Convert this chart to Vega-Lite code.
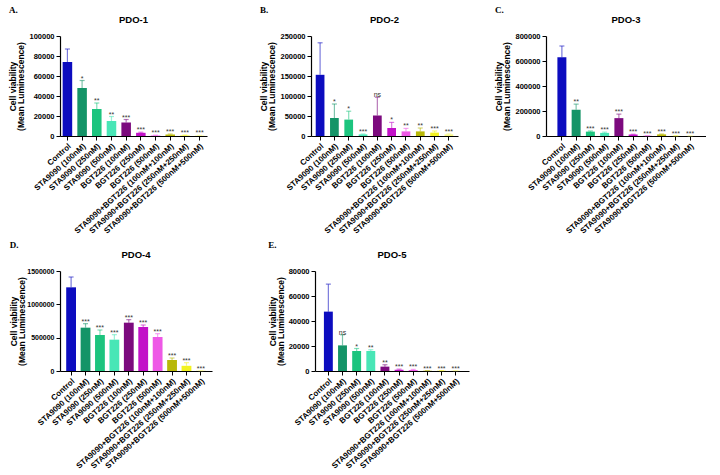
{
"$schema": "https://vega.github.io/schema/vega-lite/v6.json",
"background": "white",
"padding": {"left": 8, "top": 5, "right": 0, "bottom": 0},
"datasets": {
"pdo1": [
{"cond":"Control","mean":74000,"upper":87000,"sig":""},
{"cond":"STA9090 (100nM)","mean":48000,"upper":55500,"sig":"*"},
{"cond":"STA9090 (250nM)","mean":27000,"upper":33000,"sig":"**"},
{"cond":"STA9090 (500nM)","mean":15000,"upper":19500,"sig":"**"},
{"cond":"BGT226 (100nM)","mean":13500,"upper":16500,"sig":"***"},
{"cond":"BGT226 (250nM)","mean":3200,"upper":3800,"sig":"***"},
{"cond":"BGT226 (500nM)","mean":500,"upper":800,"sig":"***"},
{"cond":"STA9090+BGT226 (100nM+100nM)","mean":1500,"upper":2000,"sig":"***"},
{"cond":"STA9090+BGT226 (250nM+250nM)","mean":600,"upper":900,"sig":"***"},
{"cond":"STA9090+BGT226 (500nM+500nM)","mean":400,"upper":600,"sig":"***"}
],
"pdo2": [
{"cond":"Control","mean":153000,"upper":233000,"sig":""},
{"cond":"STA9090 (100nM)","mean":45000,"upper":80000,"sig":"*"},
{"cond":"STA9090 (250nM)","mean":41000,"upper":62000,"sig":"*"},
{"cond":"STA9090 (500nM)","mean":4000,"upper":5000,"sig":"***"},
{"cond":"BGT226 (100nM)","mean":51000,"upper":97000,"sig":"ns"},
{"cond":"BGT226 (250nM)","mean":20000,"upper":34000,"sig":"*"},
{"cond":"BGT226 (500nM)","mean":11500,"upper":19000,"sig":"**"},
{"cond":"STA9090+BGT226 (100nM+100nM)","mean":11500,"upper":20000,"sig":"**"},
{"cond":"STA9090+BGT226 (250nM+250nM)","mean":8500,"upper":12500,"sig":"***"},
{"cond":"STA9090+BGT226 (500nM+500nM)","mean":4000,"upper":5500,"sig":"***"}
],
"pdo3": [
{"cond":"Control","mean":630000,"upper":720000,"sig":""},
{"cond":"STA9090 (100nM)","mean":210000,"upper":255000,"sig":"**"},
{"cond":"STA9090 (250nM)","mean":35000,"upper":40000,"sig":"***"},
{"cond":"STA9090 (500nM)","mean":25000,"upper":31000,"sig":"***"},
{"cond":"BGT226 (100nM)","mean":143000,"upper":175000,"sig":"***"},
{"cond":"BGT226 (250nM)","mean":12000,"upper":14000,"sig":"***"},
{"cond":"BGT226 (500nM)","mean":2000,"upper":2500,"sig":"***"},
{"cond":"STA9090+BGT226 (100nM+100nM)","mean":13000,"upper":16000,"sig":"***"},
{"cond":"STA9090+BGT226 (250nM+250nM)","mean":1000,"upper":1500,"sig":"***"},
{"cond":"STA9090+BGT226 (500nM+500nM)","mean":1000,"upper":1500,"sig":"***"}
],
"pdo4": [
{"cond":"Control","mean":1255000,"upper":1410000,"sig":""},
{"cond":"STA9090 (100nM)","mean":650000,"upper":710000,"sig":"***"},
{"cond":"STA9090 (250nM)","mean":540000,"upper":615000,"sig":"***"},
{"cond":"STA9090 (500nM)","mean":470000,"upper":545000,"sig":"***"},
{"cond":"BGT226 (100nM)","mean":725000,"upper":770000,"sig":"***"},
{"cond":"BGT226 (250nM)","mean":660000,"upper":690000,"sig":"***"},
{"cond":"BGT226 (500nM)","mean":510000,"upper":560000,"sig":"***"},
{"cond":"STA9090+BGT226 (100nM+100nM)","mean":165000,"upper":195000,"sig":"***"},
{"cond":"STA9090+BGT226 (250nM+250nM)","mean":78000,"upper":125000,"sig":"***"},
{"cond":"STA9090+BGT226 (500nM+500nM)","mean":4000,"upper":5000,"sig":"***"}
],
"pdo5": [
{"cond":"Control","mean":47500,"upper":69500,"sig":""},
{"cond":"STA9090 (100nM)","mean":20500,"upper":29000,"sig":"ns"},
{"cond":"STA9090 (250nM)","mean":16000,"upper":18000,"sig":"*"},
{"cond":"STA9090 (500nM)","mean":16000,"upper":17000,"sig":"**"},
{"cond":"BGT226 (100nM)","mean":3500,"upper":5000,"sig":"**"},
{"cond":"BGT226 (250nM)","mean":1000,"upper":1500,"sig":"***"},
{"cond":"BGT226 (500nM)","mean":800,"upper":1300,"sig":"***"},
{"cond":"STA9090+BGT226 (100nM+100nM)","mean":200,"upper":300,"sig":"***"},
{"cond":"STA9090+BGT226 (250nM+250nM)","mean":200,"upper":300,"sig":"***"},
{"cond":"STA9090+BGT226 (500nM+500nM)","mean":200,"upper":300,"sig":"***"}
]
},
"vconcat": [
{"hconcat": [
{"title":{"text":"A.","anchor":"start","font":"Liberation Serif","fontSize":9,"fontWeight":"bold","offset":0},
 "vconcat":[{
 "width":147,"height":100,"title":"PDO-1","data":{"name":"pdo1"},
 "encoding":{"x":{"field":"cond","type":"nominal","sort":["Control","STA9090 (100nM)","STA9090 (250nM)","STA9090 (500nM)","BGT226 (100nM)","BGT226 (250nM)","BGT226 (500nM)","STA9090+BGT226 (100nM+100nM)","STA9090+BGT226 (250nM+250nM)","STA9090+BGT226 (500nM+500nM)"],"scale":{"paddingInner":0.35,"paddingOuter":0.18}},
  "color":{"field":"cond","type":"nominal","legend":null,"scale":{"domain":["Control","STA9090 (100nM)","STA9090 (250nM)","STA9090 (500nM)","BGT226 (100nM)","BGT226 (250nM)","BGT226 (500nM)","STA9090+BGT226 (100nM+100nM)","STA9090+BGT226 (250nM+250nM)","STA9090+BGT226 (500nM+500nM)"],"range":["#0c0cbf","#149467","#1cc47e","#48e6b6","#7c0a7e","#c212c8","#ee58e6","#b8b808","#f2f21e","#f6f680"]}}},
 "layer":[
  {"mark":{"type":"bar"},"encoding":{"y":{"field":"mean","type":"quantitative","title":["Cell viability","(Mean Luminescence)"],"scale":{"domain":[0,100000],"nice":false},"axis":{"values":[0,20000,40000,60000,80000,100000]}}}},
  {"mark":{"type":"rule","opacity":0.55,"strokeWidth":1.2},"encoding":{"y":{"field":"mean","type":"quantitative","title":["Cell viability","(Mean Luminescence)"],"axis":{"values":[0,20000,40000,60000,80000,100000]}},"y2":{"field":"upper"}}},
  {"mark":{"type":"tick","opacity":0.55,"size":5,"thickness":1.2},"encoding":{"y":{"field":"upper","type":"quantitative","title":["Cell viability","(Mean Luminescence)"],"axis":{"values":[0,20000,40000,60000,80000,100000]}}}},
  {"mark":{"type":"text","baseline":"bottom","dy":1,"fontSize":7,"color":"#333"},"encoding":{"y":{"field":"upper","type":"quantitative","title":["Cell viability","(Mean Luminescence)"],"axis":{"values":[0,20000,40000,60000,80000,100000]}},"text":{"field":"sig"},"color":{"value":"#333"}}}
 ]}]},
{"hconcat": [
{"title":{"text":"B.","anchor":"start","font":"Liberation Serif","fontSize":9,"fontWeight":"bold","offset":0},
 "vconcat":[{
 "width":147,"height":100,"title":"PDO-2","data":{"name":"pdo2"},
 "encoding":{"x":{"field":"cond","type":"nominal","sort":["Control","STA9090 (100nM)","STA9090 (250nM)","STA9090 (500nM)","BGT226 (100nM)","BGT226 (250nM)","BGT226 (500nM)","STA9090+BGT226 (100nM+100nM)","STA9090+BGT226 (250nM+250nM)","STA9090+BGT226 (500nM+500nM)"],"scale":{"paddingInner":0.39,"paddingOuter":0.33}},
  "color":{"field":"cond","type":"nominal","legend":null,"scale":{"domain":["Control","STA9090 (100nM)","STA9090 (250nM)","STA9090 (500nM)","BGT226 (100nM)","BGT226 (250nM)","BGT226 (500nM)","STA9090+BGT226 (100nM+100nM)","STA9090+BGT226 (250nM+250nM)","STA9090+BGT226 (500nM+500nM)"],"range":["#0c0cbf","#149467","#1cc47e","#48e6b6","#7c0a7e","#c212c8","#ee58e6","#8c8c14","#c8c83c","#f0f060"]}}},
 "layer":[
  {"mark":{"type":"bar"},"encoding":{"y":{"field":"mean","type":"quantitative","title":["Cell viability","(Mean Luminescence)"],"scale":{"domain":[0,250000],"nice":false},"axis":{"values":[0,50000,100000,150000,200000,250000]}}}},
  {"mark":{"type":"rule","opacity":0.55,"strokeWidth":1.2},"encoding":{"y":{"field":"mean","type":"quantitative","title":["Cell viability","(Mean Luminescence)"],"axis":{"values":[0,50000,100000,150000,200000,250000]}},"y2":{"field":"upper"}}},
  {"mark":{"type":"tick","opacity":0.55,"size":5,"thickness":1.2},"encoding":{"y":{"field":"upper","type":"quantitative","title":["Cell viability","(Mean Luminescence)"],"axis":{"values":[0,50000,100000,150000,200000,250000]}}}},
  {"mark":{"type":"text","baseline":"bottom","dy":1,"fontSize":7,"color":"#333"},"encoding":{"y":{"field":"upper","type":"quantitative","title":["Cell viability","(Mean Luminescence)"],"axis":{"values":[0,50000,100000,150000,200000,250000]}},"text":{"field":"sig"},"color":{"value":"#333"}}}
 ]}]},
{"title":{"text":"C.","anchor":"start","font":"Liberation Serif","fontSize":9,"fontWeight":"bold","offset":0},
 "vconcat":[{
 "width":160,"height":100,"title":"PDO-3","data":{"name":"pdo3"},
 "encoding":{"x":{"field":"cond","type":"nominal","sort":["Control","STA9090 (100nM)","STA9090 (250nM)","STA9090 (500nM)","BGT226 (100nM)","BGT226 (250nM)","BGT226 (500nM)","STA9090+BGT226 (100nM+100nM)","STA9090+BGT226 (250nM+250nM)","STA9090+BGT226 (500nM+500nM)"],"scale":{"paddingInner":0.37,"paddingOuter":0.8}},
  "color":{"field":"cond","type":"nominal","legend":null,"scale":{"domain":["Control","STA9090 (100nM)","STA9090 (250nM)","STA9090 (500nM)","BGT226 (100nM)","BGT226 (250nM)","BGT226 (500nM)","STA9090+BGT226 (100nM+100nM)","STA9090+BGT226 (250nM+250nM)","STA9090+BGT226 (500nM+500nM)"],"range":["#0c0cbf","#149467","#1cc47e","#48e6b6","#7c0a7e","#c212c8","#ee58e6","#b8b808","#f2f21e","#f6f680"]}}},
 "layer":[
  {"mark":{"type":"bar"},"encoding":{"y":{"field":"mean","type":"quantitative","title":["Cell viability","(Mean Luminescence)"],"scale":{"domain":[0,800000],"nice":false},"axis":{"values":[0,200000,400000,600000,800000]}}}},
  {"mark":{"type":"rule","opacity":0.55,"strokeWidth":1.2},"encoding":{"y":{"field":"mean","type":"quantitative","title":["Cell viability","(Mean Luminescence)"],"axis":{"values":[0,200000,400000,600000,800000]}},"y2":{"field":"upper"}}},
  {"mark":{"type":"tick","opacity":0.55,"size":5,"thickness":1.2},"encoding":{"y":{"field":"upper","type":"quantitative","title":["Cell viability","(Mean Luminescence)"],"axis":{"values":[0,200000,400000,600000,800000]}}}},
  {"mark":{"type":"text","baseline":"bottom","dy":1,"fontSize":7,"color":"#333"},"encoding":{"y":{"field":"upper","type":"quantitative","title":["Cell viability","(Mean Luminescence)"],"axis":{"values":[0,200000,400000,600000,800000]}},"text":{"field":"sig"},"color":{"value":"#333"}}}
 ]}]}
], "spacing": 36}
], "spacing": 52},
{"hconcat": [
{"title":{"text":"D.","anchor":"start","font":"Liberation Serif","fontSize":9,"fontWeight":"bold","offset":0},
 "vconcat":[{
 "width":152,"height":100,"title":"PDO-4","data":{"name":"pdo4"},
 "encoding":{"x":{"field":"cond","type":"nominal","sort":["Control","STA9090 (100nM)","STA9090 (250nM)","STA9090 (500nM)","BGT226 (100nM)","BGT226 (250nM)","BGT226 (500nM)","STA9090+BGT226 (100nM+100nM)","STA9090+BGT226 (250nM+250nM)","STA9090+BGT226 (500nM+500nM)"],"scale":{"paddingInner":0.32,"paddingOuter":0.43}},
  "color":{"field":"cond","type":"nominal","legend":null,"scale":{"domain":["Control","STA9090 (100nM)","STA9090 (250nM)","STA9090 (500nM)","BGT226 (100nM)","BGT226 (250nM)","BGT226 (500nM)","STA9090+BGT226 (100nM+100nM)","STA9090+BGT226 (250nM+250nM)","STA9090+BGT226 (500nM+500nM)"],"range":["#0c0cbf","#189a68","#1fc27e","#22c47e","#7c0a7e","#c212c8","#f060e0","#bcbc08","#f4f41a","#f6f680"]}}},
 "layer":[
  {"mark":{"type":"bar"},"encoding":{"y":{"field":"mean","type":"quantitative","title":["Cell viability","(Mean Luminescence)"],"scale":{"domain":[0,1500000],"nice":false},"axis":{"values":[0,500000,1000000,1500000],"labelFontSize":7,"titlePadding":0}}}},
  {"mark":{"type":"rule","opacity":0.55,"strokeWidth":1.2},"encoding":{"y":{"field":"mean","type":"quantitative","title":["Cell viability","(Mean Luminescence)"],"axis":{"values":[0,500000,1000000,1500000],"labelFontSize":7,"titlePadding":0}},"y2":{"field":"upper"}}},
  {"mark":{"type":"tick","opacity":0.55,"size":5,"thickness":1.2},"encoding":{"y":{"field":"upper","type":"quantitative","title":["Cell viability","(Mean Luminescence)"],"axis":{"values":[0,500000,1000000,1500000],"labelFontSize":7,"titlePadding":0}}}},
  {"mark":{"type":"text","baseline":"bottom","dy":1,"fontSize":7,"color":"#333"},"encoding":{"y":{"field":"upper","type":"quantitative","title":["Cell viability","(Mean Luminescence)"],"axis":{"values":[0,500000,1000000,1500000],"labelFontSize":7,"titlePadding":0}},"text":{"field":"sig"},"color":{"value":"#333"}}}
 ]}]},
{"title":{"text":"E.","anchor":"start","font":"Liberation Serif","fontSize":9,"fontWeight":"bold","offset":0},
 "vconcat":[{
 "width":154,"height":100,"title":"PDO-5","data":{"name":"pdo5"},
 "encoding":{"x":{"field":"cond","type":"nominal","sort":["Control","STA9090 (100nM)","STA9090 (250nM)","STA9090 (500nM)","BGT226 (100nM)","BGT226 (250nM)","BGT226 (500nM)","STA9090+BGT226 (100nM+100nM)","STA9090+BGT226 (250nM+250nM)","STA9090+BGT226 (500nM+500nM)"],"scale":{"paddingInner":0.37,"paddingOuter":0.63}},
  "color":{"field":"cond","type":"nominal","legend":null,"scale":{"domain":["Control","STA9090 (100nM)","STA9090 (250nM)","STA9090 (500nM)","BGT226 (100nM)","BGT226 (250nM)","BGT226 (500nM)","STA9090+BGT226 (100nM+100nM)","STA9090+BGT226 (250nM+250nM)","STA9090+BGT226 (500nM+500nM)"],"range":["#0c0cbf","#149467","#1cc47e","#48e6b6","#7c0a7e","#c212c8","#ee58e6","#b8b808","#f2f21e","#f6f680"]}}},
 "layer":[
  {"mark":{"type":"bar"},"encoding":{"y":{"field":"mean","type":"quantitative","title":["Cell viability","(Mean Luminescence)"],"scale":{"domain":[0,80000],"nice":false},"axis":{"values":[0,20000,40000,60000,80000]}}}},
  {"mark":{"type":"rule","opacity":0.55,"strokeWidth":1.2},"encoding":{"y":{"field":"mean","type":"quantitative","title":["Cell viability","(Mean Luminescence)"],"axis":{"values":[0,20000,40000,60000,80000]}},"y2":{"field":"upper"}}},
  {"mark":{"type":"tick","opacity":0.55,"size":5,"thickness":1.2},"encoding":{"y":{"field":"upper","type":"quantitative","title":["Cell viability","(Mean Luminescence)"],"axis":{"values":[0,20000,40000,60000,80000]}}}},
  {"mark":{"type":"text","baseline":"bottom","dy":1,"fontSize":7,"color":"#333"},"encoding":{"y":{"field":"upper","type":"quantitative","title":["Cell viability","(Mean Luminescence)"],"axis":{"values":[0,20000,40000,60000,80000]}},"text":{"field":"sig"},"color":{"value":"#333"}}}
 ]}]}
], "spacing": 56}
],
"spacing": 4,
"config": {
 "view": {"stroke": null},
 "font": "Liberation Sans",
 "axis": {"labelFont":"Liberation Sans","labelFontWeight":"bold","labelFontSize":7.5,"labelColor":"#000","domainColor":"#000","tickColor":"#000","grid":false,"titleFont":"Liberation Sans","titleFontWeight":"bold","titleFontSize":8.5,"titleColor":"#000","tickSize":4,"domainWidth":1.2,"tickWidth":1,"labelOverlap":false},
 "axisX": {"labelAngle":-42,"title":null,"labelLimit":300,"labelPadding":2,"labelFontSize":8},
 "axisY": {"labelPadding":2,"titlePadding":3,"format":"d","titleLineHeight":8,"labelFlush":false},
 "title": {"fontSize":9.5,"font":"Liberation Sans","fontWeight":"bold","color":"#000","offset":8},
 "concat": {"spacing": 10}
}
}
